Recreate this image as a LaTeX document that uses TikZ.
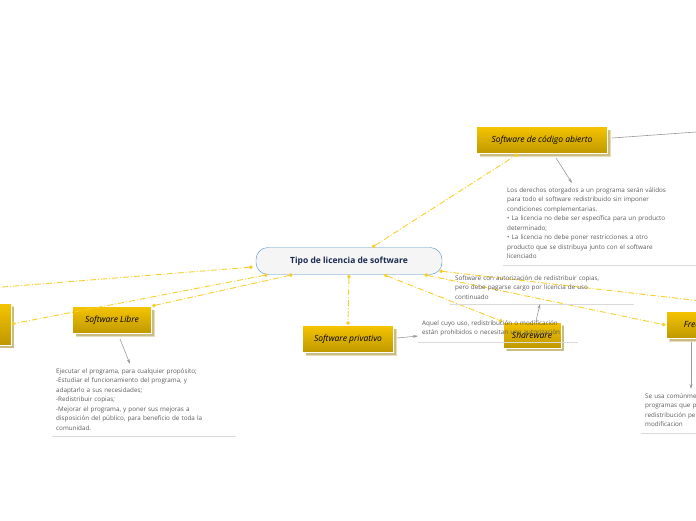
\documentclass[tikz,border=0pt]{standalone}
\usepackage{fontspec}
\setmainfont{Open Sans}
\usetikzlibrary{arrows,shapes,positioning,calc}
\definecolor{gold}{HTML}{F5C400}
\definecolor{darkgold}{HTML}{BF9800}
\definecolor{link}{HTML}{F7CF2A}
\definecolor{rootline}{HTML}{4A90D0}
\definecolor{navy}{HTML}{1A2A50}
\tikzset{
  topic/.style={draw=white, line width=1pt, top color=gold, bottom color=darkgold,
    minimum height=27pt, inner sep=4pt, font=\fontsize{8.5}{11}\selectfont\itshape,
    drop shadow={shadow xshift=3pt, shadow yshift=-3pt, fill=darkgold!80!black, draw=white}},
  note/.style={anchor=north west, inner sep=0pt, align=left, text=black!65,
    font=\fontsize{6.3}{9.5}\selectfont},
  branch/.style={link, line width=0.9pt, dash pattern=on 6pt off 2pt on 1pt off 2pt,
    {Diamond[length=4pt,width=4pt]}-{Diamond[length=4pt,width=4pt]}},
  descr/.style={black!40, line width=0.6pt, -{Stealth[length=5pt,width=3pt]}},
  rule/.style={black!15, line width=0.8pt}
}
\usetikzlibrary{shadows,arrows.meta}
\begin{document}
\begin{tikzpicture}[x=1pt,y=-1pt]
  \useasboundingbox (0,0) rectangle (696,520);
  \clip (0,0) rectangle (696,520);
  % main topic
  \node[draw=rootline, fill=black!4, rounded corners=12pt, minimum width=186pt,
    minimum height=27pt, font=\fontsize{8.5}{10}\selectfont\bfseries, text=navy] (root) at (349,261) {Tipo de licencia de software};

  % subtopics
  \node[topic, minimum width=131pt] (abierto) at (542,140) {Software de código abierto};
  \node[topic, minimum width=79pt] (libre) at (112,320) {Software Libre};
  \node[topic, minimum width=91pt] (privativo) at (348,339) {Software privativo};
  \node[topic, minimum width=58pt, minimum height=26pt] (share) at (532,335) {Shareware};
  \node[topic, minimum width=70pt] (free) at (701,325) {Freeware};
  \node[topic, minimum width=50pt, minimum height=42pt] (otro) at (-14,324) {};
  \coordinate (offleft) at (-10,288);
  \coordinate (offright) at (710,302);
  \coordinate (offup) at (710,131);

  % connectors
  \draw[branch] (root.north) ++(23,0) -- (abierto.south west -| 518,0) ;
  \draw[branch] ($(root.south)+(0,0)$) -- (privativo.north);
  \draw[branch] ($(root.south west)+(37,0)$) -- (libre.north east);
  \draw[branch] ($(root.south west)+(12,0)$) -- (otro.east);
  \draw[branch] ($(root.west)+(-3,6)$) -- (offleft);
  \draw[branch] ($(root.south)+(35,0)$) -- (share.north west);
  \draw[branch] ($(root.south east)+(-18,0)$) -- (free.west);
  \draw[branch] ($(root.east)+(-3,10)$) -- (offright);
  \draw[black!40, line width=0.6pt] (abierto.east) ++(4,-2) -- (offup);

  % descriptions
  \node[note, text width=180pt] (dabierto) at (507,187) {Los derechos otorgados a un programa serán válidos\\para todo el software redistribuido sin imponer\\condiciones complementarias.\\• La licencia no debe ser específica para un producto\\determinado;\\• La licencia no debe poner restricciones a otro\\producto que se distribuya junto con el software\\licenciado};
  \draw[rule] (503,265) -- (700,265);
  \draw[descr] (556,158) -- (572,183);

  \node[note, text width=175pt] (dlibre) at (56,368) {Ejecutar el programa, para cualquier propósito;\\-Estudiar el funcionamiento del programa, y\\adaptarlo a sus necesidades;\\-Redistribuir copias;\\-Mejorar el programa, y poner sus mejoras a\\disposición del público, para beneficio de toda la\\comunidad.};
  \draw[rule] (52,436) -- (236,436);
  \draw[descr] (120,339) -- (130,364);

  \node[note, text width=160pt] (dprivativo) at (422,320) {Aquel cuyo uso, redistribución o modificación\\están prohibidos o necesitan una autorización};
  \draw[rule] (418,342) -- (578,342);
  \draw[descr] (397,338) -- (418,336);

  \node[note, text width=180pt] (dshare) at (455,275) {Software con autorización de redistribuir copias,\\pero debe pagarse cargo por licencia de uso\\continuado};
  \draw[rule] (450,304) -- (634,304);
  \draw[descr] (536,321) -- (540,304);

  \node[note, text width=120pt] (dfree) at (645,393) {Se usa comúnmente para\\programas que permiten la\\redistribución pero no la\\modificacion};
  \draw[rule] (641,433) -- (700,433);
  \draw[descr] (691,342) -- (691,389);
\end{tikzpicture}
\end{document}
